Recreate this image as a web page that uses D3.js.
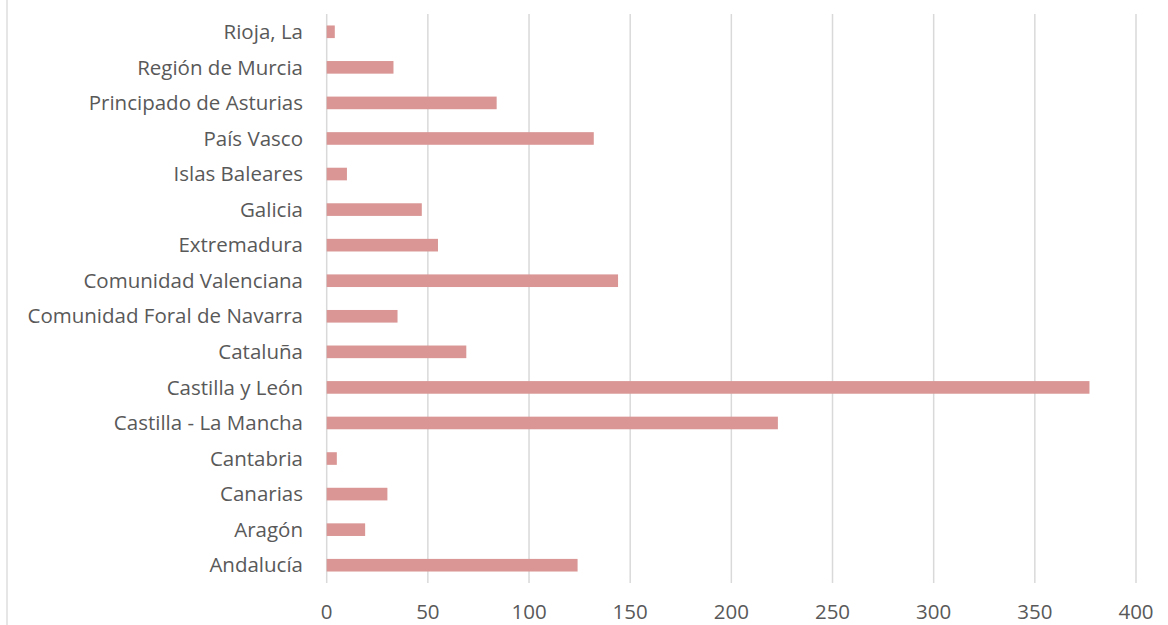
<!DOCTYPE html>
<html><head><meta charset="utf-8">
<script src="https://cdn.jsdelivr.net/npm/d3@7"></script>
<style>body{margin:0;background:#fff}svg{display:block}</style>
</head><body>
<script>
const categories = ["Rioja, La","Región de Murcia","Principado de Asturias","País Vasco","Islas Baleares","Galicia","Extremadura","Comunidad Valenciana","Comunidad Foral de Navarra","Cataluña","Castilla y León","Castilla - La Mancha","Cantabria","Canarias","Aragón","Andalucía"];
const values = [4,33,84,132,10,47,55,144,35,69,377,223,5,30,19,124];
const xTicks = [0,50,100,150,200,250,300,350,400];

const W=1168,H=625;
const svg=d3.select("body").append("svg").attr("width",W).attr("height",H);
svg.append("rect").attr("x",7).attr("y",-2).attr("width",W+10).attr("height",H+10).attr("fill","#fff").attr("stroke","#d9d9d9").attr("stroke-width",1.3);

const x=d3.scaleLinear().domain([0,400]).range([326.7,1136]);
const y=d3.scaleBand().domain(categories).range([14,583]).paddingInner(0.645).paddingOuter(0.3225);

const font="'Open Sans', sans-serif";
svg.append("g").selectAll("line").data(xTicks).join("line")
  .attr("x1",d=>x(d)).attr("x2",d=>x(d)).attr("y1",14).attr("y2",583)
  .attr("stroke","#d9d9d9").attr("stroke-width",1.5);

svg.append("g").selectAll("rect").data(values).join("rect")
  .attr("x",x(0)).attr("y",(d,i)=>y(categories[i]))
  .attr("width",d=>x(d)-x(0)).attr("height",y.bandwidth())
  .attr("fill","#d99694");

svg.append("g").selectAll("text").data(categories).join("text")
  .attr("x",303).attr("y",d=>y(d)+y.bandwidth()/2).attr("dy","0.35em")
  .attr("text-anchor","end").attr("font-family",font).attr("font-size",20.5)
  .attr("fill","#595959").text(d=>d);

svg.append("g").selectAll("text").data(xTicks).join("text")
  .attr("x",d=>x(d)).attr("y",612).attr("dy","0.35em")
  .attr("text-anchor","middle").attr("font-family",font).attr("font-size",20.5)
  .attr("fill","#595959").text(d=>d);
</script>
</body></html>
